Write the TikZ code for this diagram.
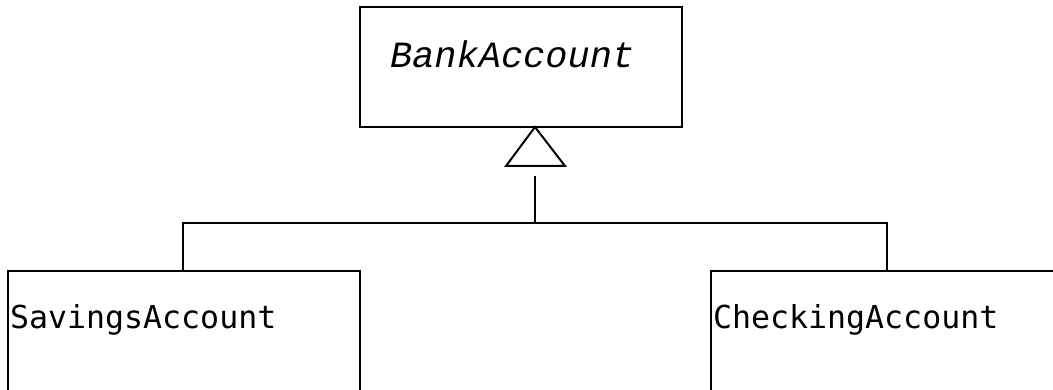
\documentclass[tikz,border=0pt]{standalone}
\usepackage{fontspec}
\newfontfamily\courierit{Liberation Mono}[ItalicFont={* Italic}]
\newfontfamily\sansmono{DejaVu Sans Mono}
\begin{document}
\begin{tikzpicture}[x=1pt,y=-1pt,
  box/.style={draw=black,line width=2pt,fill=none},
  conn/.style={draw=black,line width=2pt},
  lbl/.style={anchor=base west,inner sep=0pt,outer sep=0pt}]
\useasboundingbox (0,0) rectangle (1053,390);
\fill[white] (0,0) rectangle (1053,390);
\clip (0,0) rectangle (1053,390);
% classes
\draw[box] (360,7) rectangle (682,127);
\node[box,minimum width=0pt,draw=none] (bank) at (521,67) {};
\node[lbl] (banktxt) at (390,68) {\courierit\fontsize{37}{40}\selectfont\itshape BankAccount};
\draw[box] (8,271) rectangle (360,430);
\coordinate (sav) at (183,271);
\node[lbl] (savtxt) at (10,328) {\sansmono\fontsize{31.6}{34}\selectfont SavingsAccount};
\draw[box] (711,271) rectangle (1090,430);
\coordinate (chk) at (887,271);
\node[lbl] (chktxt) at (713,328) {\sansmono\fontsize{31.6}{34}\selectfont CheckingAccount};
% inheritance
\coordinate (apex) at (535,127);
\coordinate (stem) at (535,176);
\coordinate (join) at (535,223);
\draw[conn,line join=miter] (apex) -- (506,166) -- (565,166) -- cycle;
\draw[conn] (stem) -- (join);
\draw[conn] (sav) |- (join) -| (chk);
\end{tikzpicture}
\end{document}
